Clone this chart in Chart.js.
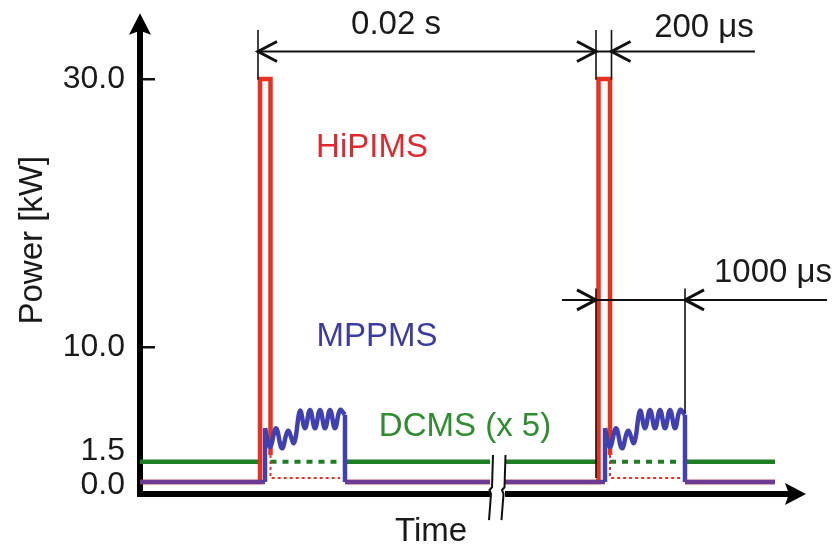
<!DOCTYPE html>
<html>
<head>
<meta charset="utf-8">
<script src="https://cdn.jsdelivr.net/npm/chart.js@4.4.1/dist/chart.umd.min.js"></script>
<style>
  html, body { margin: 0; padding: 0; background: #fff; }
  #c { display: block; }
</style>
</head>
<body>
<canvas id="c" width="837" height="547"></canvas>
<script>
// ---- Power axis (kW) ----
const powerTicks = [0, 1.5, 10, 30];
const powerLabels = ['0.0', '1.5', '10.0', '30.0'];

// ---- Time axis (schematic units, axis broken between the two periods) ----
const timeRange = [0, 65];
const breakGap = [35.0, 36.5];

// HiPIMS: 30 kW pulses on a zero baseline (solid part)
const hipimsOn = [
  {x: 0, y: 0}, {x: 12.0, y: 0}, {x: 12.0, y: 30}, {x: 13.05, y: 30}, {x: 13.05, y: 2.0}, {x: 13.05, y: null},
  {x: 20.5, y: 0}, {x: 35.0, y: 0}, {x: 35.0, y: null},
  {x: 36.5, y: 0}, {x: 45.85, y: 0}, {x: 45.85, y: 30}, {x: 47.0, y: 30}, {x: 47.0, y: 2.0}, {x: 47.0, y: null},
  {x: 54.5, y: 0}, {x: 63.5, y: 0}
];
// HiPIMS off-time under the MPPMS pulse (dotted)
const hipimsOff = [
  {x: 13.05, y: 2.0}, {x: 13.05, y: 0.3}, {x: 20.0, y: 0.3}, {x: 20.0, y: null},
  {x: 47.0, y: 2.0}, {x: 47.0, y: 0.3}, {x: 54.0, y: 0.3}
];

// DCMS (x 5): constant 1.5 kW
const dcmsOn = [
  {x: 0, y: 1.5}, {x: 12.0, y: 1.5}, {x: 12.0, y: null},
  {x: 20.5, y: 1.5}, {x: 35.0, y: 1.5}, {x: 35.0, y: null},
  {x: 36.5, y: 1.5}, {x: 45.85, y: 1.5}, {x: 45.85, y: null},
  {x: 54.5, y: 1.5}, {x: 63.5, y: 1.5}
];
const dcmsHidden = [
  {x: 13.05, y: 1.5}, {x: 20.0, y: 1.5}, {x: 20.0, y: null},
  {x: 47.0, y: 1.5}, {x: 54.0, y: 1.5}
];

// MPPMS: baseline and pulse edges
const mppmsEdges = [
  {x: 0, y: 0}, {x: 12.5, y: 0}, {x: 12.5, y: 4.0}, {x: 12.5, y: null},
  {x: 20.5, y: 5.0}, {x: 20.5, y: 0}, {x: 35.0, y: 0}, {x: 35.0, y: null},
  {x: 36.5, y: 0}, {x: 46.5, y: 0}, {x: 46.5, y: 4.0}, {x: 46.5, y: null},
  {x: 54.5, y: 5.0}, {x: 54.5, y: 0}, {x: 63.5, y: 0}
];
// MPPMS: oscillating pulse tops (weak-ionisation stage, then strong-ionisation stage)
const mppmsPulse1 = [
  {x: 12.5, y: 4.0}, {x: 13.0, y: 2.6}, {x: 13.6, y: 4.0}, {x: 14.2, y: 2.5}, {x: 14.8, y: 3.8},
  {x: 15.4, y: 2.9}, {x: 16.0, y: 5.3}, {x: 16.5, y: 4.0},
  {x: 17.0, y: 5.35}, {x: 17.5, y: 4.0}, {x: 18.0, y: 5.35}, {x: 18.5, y: 4.0}, {x: 19.0, y: 5.35},
  {x: 19.5, y: 4.0}, {x: 20.0, y: 5.35}, {x: 20.5, y: 5.0}
];
const mppmsPulse2 = [
  {x: 46.5, y: 4.0}, {x: 47.0, y: 2.6}, {x: 47.6, y: 4.0}, {x: 48.2, y: 2.5}, {x: 48.8, y: 3.8},
  {x: 49.4, y: 2.9}, {x: 50.0, y: 5.3}, {x: 50.5, y: 4.0},
  {x: 51.0, y: 5.35}, {x: 51.5, y: 4.0}, {x: 52.0, y: 5.35}, {x: 52.5, y: 4.0}, {x: 53.0, y: 5.35},
  {x: 53.5, y: 4.0}, {x: 54.0, y: 5.35}, {x: 54.5, y: 5.0}
];

const FONT = "'Liberation Sans', Arial, Helvetica, sans-serif";
const RED = '#e8311f';
const BLUE = '#4040b0';
const PURPLE = '#6b3c92';
const GREEN = '#1f7d24';

// dimension annotations, in data units
const dims = {
  period: {from: 11.8, to: 45.6, at: 32.05, label: '0.02 s', lx: 25.6, ly: 34.0},
  hipims: {from: 47.15, to: 61.5, label: '200 \u03bcs', lx: 56.4, ly: 33.8},
  mppms: {from: 42.2, to: 68.7, at: 13.55, start: 45.6, end: 54.5, label: '1000 \u03bcs', lx: 63.3, ly: 15.6}
};

function chevron(ctx, x, y, dir) {
  // open arrowhead with its tip at (x, y); dir = -1 points left, +1 points right
  ctx.beginPath();
  ctx.moveTo(x - dir * 19, y - 10);
  ctx.lineTo(x, y);
  ctx.lineTo(x - dir * 19, y + 10);
  ctx.stroke();
}

const decor = {
  id: 'decor',
  afterDraw(chart) {
    const {ctx, scales: {x, y}} = chart;
    const X = v => x.getPixelForValue(v);
    const Y = v => y.getPixelForValue(v);
    ctx.save();

    // axis arrowheads
    ctx.fillStyle = '#000';
    const ax = X(0);
    ctx.beginPath();
    ctx.moveTo(ax, Y(34.9));
    ctx.lineTo(ax - 11, Y(33.3));
    ctx.lineTo(ax, Y(33.6));
    ctx.lineTo(ax + 11, Y(33.3));
    ctx.closePath();
    ctx.fill();
    const ay = Y(-0.9);
    ctx.beginPath();
    ctx.moveTo(X(66.6), ay);
    ctx.lineTo(X(64.5), ay - 11);
    ctx.lineTo(X(64.9), ay);
    ctx.lineTo(X(64.5), ay + 11);
    ctx.closePath();
    ctx.fill();
    ctx.fillRect(X(64.0), ay - 3, X(65.0) - X(64.0), 6);

    // axis break
    ctx.fillStyle = '#fff';
    ctx.fillRect(X(breakGap[0]), ay - 5, X(breakGap[1]) - X(breakGap[0]), 10);
    ctx.strokeStyle = '#111';
    ctx.lineWidth = 2;
    [breakGap[0] + 0.2, breakGap[1] - 0.05].forEach(bx => {
      ctx.beginPath();
      ctx.moveTo(X(bx + 0.1), Y(2.0));
      ctx.lineTo(X(bx), Y(-0.4));
      ctx.lineTo(X(bx - 0.25), Y(-0.6));
      ctx.lineTo(X(bx - 0.1), Y(-0.9));
      ctx.lineTo(X(bx - 0.3), Y(-2.85));
      ctx.stroke();
    });

    // dimension lines
    ctx.strokeStyle = '#111';
    ctx.lineWidth = 1.6;
    const ext = (vx, y0, y1) => { ctx.beginPath(); ctx.moveTo(X(vx), Y(y0)); ctx.lineTo(X(vx), Y(y1)); ctx.stroke(); };
    ext(dims.period.from, 33.65, 29.95);
    ext(dims.period.to, 33.65, 29.95);
    ext(dims.hipims.from, 33.65, 29.95);
    ext(dims.mppms.start, 14.4, 0.3);
    ext(dims.mppms.end, 14.4, 5.15);
    ctx.lineWidth = 2;
    ctx.beginPath();
    ctx.moveTo(X(dims.period.from), Y(dims.period.at));
    ctx.lineTo(X(dims.hipims.to), Y(dims.period.at));
    ctx.stroke();
    ctx.beginPath();
    ctx.moveTo(X(dims.mppms.from), Y(dims.mppms.at));
    ctx.lineTo(X(dims.mppms.to), Y(dims.mppms.at));
    ctx.stroke();
    ctx.lineWidth = 3;
    chevron(ctx, X(dims.period.from), Y(dims.period.at), -1);
    chevron(ctx, X(dims.period.to), Y(dims.period.at), 1);
    chevron(ctx, X(dims.hipims.from), Y(dims.period.at), -1);
    chevron(ctx, X(dims.mppms.start), Y(dims.mppms.at), 1);
    chevron(ctx, X(dims.mppms.end), Y(dims.mppms.at), -1);

    // texts
    ctx.textAlign = 'center';
    ctx.textBaseline = 'middle';
    ctx.font = '33px ' + FONT;
    const txt = (s, vx, vy, c) => { ctx.fillStyle = c; ctx.fillText(s, X(vx), Y(vy)); };
    txt(dims.period.label, dims.period.lx, dims.period.ly, '#1a1a1a');
    txt(dims.hipims.label, dims.hipims.lx, dims.hipims.ly, '#1a1a1a');
    txt(dims.mppms.label, dims.mppms.lx, dims.mppms.ly, '#1a1a1a');
    txt('HiPIMS', 23.2, 24.9, '#dc2a2e');
    txt('MPPMS', 23.7, 10.8, '#3c3c9e');
    txt('DCMS (x 5)', 32.5, 4.1, '#2f8c2f');
    txt('Time', 29.1, -3.75, '#1a1a1a');
    ctx.save();
    ctx.translate(X(-10.7), Y(18.0));
    ctx.rotate(-Math.PI / 2);
    ctx.fillStyle = '#1a1a1a';
    ctx.fillText('Power [kW]', 0, 0);
    ctx.restore();

    ctx.restore();
  }
};

const line = (data, color, width, extra) => Object.assign({
  data, borderColor: color, borderWidth: width, pointRadius: 0, fill: false,
  tension: 0, spanGaps: false, borderJoinStyle: 'miter', borderCapStyle: 'butt'
}, extra || {});

new Chart(document.getElementById('c'), {
  type: 'line',
  data: {
    datasets: [
      line(mppmsPulse1, BLUE, 4.5, {label: 'MPPMS', tension: 0.4, order: 1}),
      line(mppmsPulse2, BLUE, 4.5, {label: 'MPPMS', tension: 0.4, order: 1}),
      line(mppmsEdges, BLUE, 4.5, {label: 'MPPMS', order: 2, segment: {
        borderColor: c => (c.p0.parsed.y === 0 && c.p1.parsed.y === 0) ? PURPLE : BLUE
      }}),
      line(hipimsOn, RED, 4.5, {label: 'HiPIMS', order: 3}),
      line(hipimsOff, RED, 2, {label: 'HiPIMS', order: 4, borderDash: [3, 3]}),
      line(dcmsOn, GREEN, 4.5, {label: 'DCMS (x 5)', order: 5}),
      line(dcmsHidden, GREEN, 4, {label: 'DCMS (x 5)', order: 6, borderDash: [6, 6]})
    ]
  },
  options: {
    responsive: false,
    animation: false,
    events: [],
    layout: {padding: {top: 30, right: 47, left: 0, bottom: 0}},
    plugins: {legend: {display: false}, tooltip: {enabled: false}},
    scales: {
      x: {
        type: 'linear', min: timeRange[0], max: timeRange[1],
        grid: {display: false},
        ticks: {display: false},
        border: {display: true, color: '#000', width: 6},
        afterFit: s => { s.height = 53; s.paddingLeft = 0; s.paddingRight = 0; }
      },
      y: {
        type: 'linear', min: -0.9, max: 33.65,
        afterBuildTicks: s => { s.ticks = powerTicks.map(v => ({value: v})); },
        afterFit: s => { s.width = 140; s.paddingTop = 0; s.paddingBottom = 0; },
        ticks: {
          autoSkip: false,
          padding: 30,
          color: '#1a1a1a',
          font: c => {
            const v = c.tick ? c.tick.value : null;
            return {family: FONT, size: 32, lineHeight: v === 1.5 ? 0.69 : (v === 0 ? 0.2 : 1.2)};
          },
          callback: v => {
            const s = powerLabels[powerTicks.indexOf(v)];
            if (v === 1.5) return [s, ''];
            if (v === 0) return ['', s];
            return s;
          }
        },
        grid: {
          drawOnChartArea: false, drawTicks: true, tickLength: -15, lineWidth: 2.5,
          color: c => (c.tick && c.tick.value >= 10) ? '#111' : 'rgba(0,0,0,0)',
          tickColor: c => (c.tick && c.tick.value >= 10) ? '#111' : 'rgba(0,0,0,0)'
        },
        border: {display: true, color: '#000', width: 6}
      }
    }
  },
  plugins: [decor]
});
</script>
</body>
</html>
